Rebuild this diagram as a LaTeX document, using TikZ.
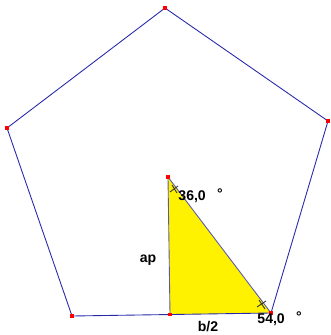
\documentclass[tikz,border=0pt]{standalone}
\usepackage{fontspec}
\setmainfont{Liberation Sans}
\usepackage{xcolor}
\usepackage{tikz}

\definecolor{edgeblue}{RGB}{40,40,170}
\definecolor{legblue}{RGB}{90,90,170}
\tikzset{
  vtx/.style={fill=red, inner sep=0pt, minimum size=3pt},
  lab/.style={font=\bfseries\fontsize{12}{14}\selectfont, inner sep=0pt}
}

\begin{document}
\begin{tikzpicture}[x=0.03cm, y=-0.03cm, line width=0.75pt]
  \useasboundingbox (0,0) rectangle (330,335);
  % vertices of the pentagon, centre and foot of the apothem
  \coordinate (top) at (165,8);
  \coordinate (right) at (328,121);
  \coordinate (br) at (271,313);
  \coordinate (bl) at (72,316);
  \coordinate (left) at (7,128);
  \coordinate (ctr) at (168,177);
  \coordinate (foot) at (170,314.5);
  % half triangle
  \fill[yellow] (ctr) -- (foot) -- (br) -- cycle;
  \draw[legblue] (ctr) -- (foot);
  \draw[legblue] (ctr) -- (br);
  % pentagon
  \draw[edgeblue] (top) -- (right) -- (br) -- (bl) -- (left) -- cycle;
  % angle marks
  \draw[black!80] (170,192) -- (178,186) (172,185) -- (177,193);
  \draw[black!80] (257,307) -- (266,301) (259,300) -- (265,309);
  % points
  \foreach \p in {top,right,br,bl,left,ctr,foot}
    \node[vtx] at (\p) {};
  % labels
  \node[lab, anchor=west] (a1) at (178,197) {36,0};
  \node[lab] (d1) at (220,194) {°};
  \node[lab, anchor=west] (a2) at (257,320) {54,0};
  \node[lab] (d2) at (299,317) {°};
  \node[lab] (ap) at (148,260) {ap};
  \node[lab] (b2) at (208,327) {b/2};
\end{tikzpicture}
\end{document}
